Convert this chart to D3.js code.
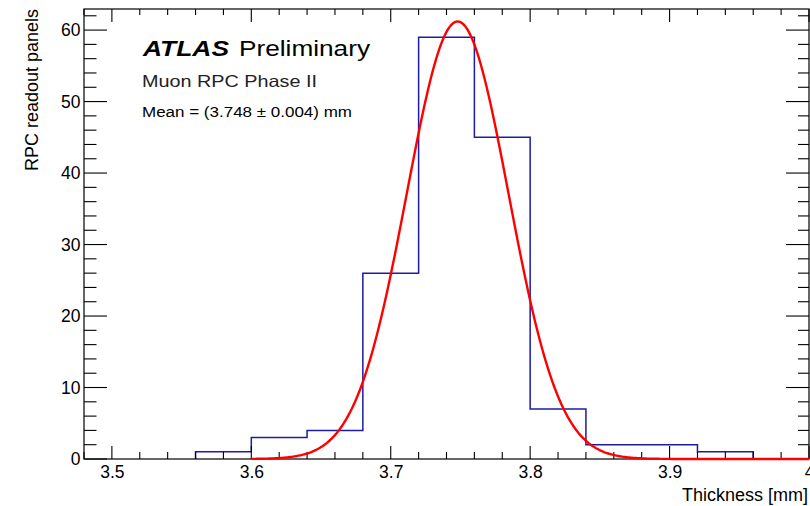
<!DOCTYPE html>
<html>
<head>
<meta charset="utf-8">
<script src="https://cdn.jsdelivr.net/npm/d3@7"></script>
<style>
  body { margin: 0; background: #fff; }
  svg { display: block; font-family: "Liberation Sans", Arial, Helvetica, sans-serif; }
</style>
</head>
<body>
<svg width="810" height="506"></svg>
<script>
// histogram bins (thickness in mm) and counts
const binEdges = [3.56, 3.60, 3.64, 3.68, 3.72, 3.76, 3.80, 3.84, 3.88, 3.92, 3.96];
const counts = [1, 3, 4, 26, 59, 45, 7, 2, 2, 1];

// gaussian fit: [constant, mean, sigma] and fit range
const fitParams = [61.2, 3.748, 0.0365];
const fitRange = [3.6, 4.0];

const xTicks = [3.5, 3.6, 3.7, 3.8, 3.9, 4.0];
const yTicks = [0, 10, 20, 30, 40, 50, 60];

const margin = { top: 9, right: 1, bottom: 47, left: 84 };
const width = 810 - margin.left - margin.right;
const height = 506 - margin.top - margin.bottom;

const svg = d3.select('svg');
const graph = svg.append('g').attr('transform', `translate(${margin.left}, ${margin.top})`);

const xScale = d3.scaleLinear().domain([3.48, 4.0]).range([0, width]);
const yScale = d3.scaleLinear().domain([0, 62.95]).range([height, 0]);

// histogram outline
const steps = [[binEdges[0], 0]];
counts.forEach((c, i) => {
  steps.push([binEdges[i], c]);
  steps.push([binEdges[i + 1], c]);
});
steps.push([binEdges[binEdges.length - 1], 0]);

graph
  .append('path')
  .attr('d', d3.line().x(d => xScale(d[0])).y(d => yScale(d[1]))(steps))
  .attr('fill', 'none')
  .attr('stroke', '#1c1ca4')
  .attr('stroke-width', 1.5);

// ticks
const xMinor = d3.range(174, 201).map(i => i / 50);
const yMinor = d3.range(0, 63, 2);
const ticks = graph.append('g').attr('stroke', '#000').attr('stroke-width', 1.1);

xMinor.forEach(v => {
  const major = xTicks.some(t => Math.abs(t - v) < 1e-6);
  const x = xScale(v);
  ticks.append('line').attr('x1', x).attr('x2', x).attr('y1', height).attr('y2', height - (major ? 13 : 7));
  ticks.append('line').attr('x1', x).attr('x2', x).attr('y1', 0).attr('y2', major ? 13 : 6);
});
yMinor.forEach(v => {
  const major = v % 10 === 0;
  const y = yScale(v);
  ticks.append('line').attr('x1', 0).attr('x2', major ? 23 : 12.5).attr('y1', y).attr('y2', y);
  ticks.append('line').attr('x1', width).attr('x2', width - (major ? 23 : 11)).attr('y1', y).attr('y2', y);
});

graph
  .append('rect')
  .attr('width', width)
  .attr('height', height)
  .attr('fill', 'none')
  .attr('stroke', '#000')
  .attr('stroke-width', 1.2);

// tick labels
const xAxis = d3.axisBottom(xScale).tickValues(xTicks).tickSize(0).tickPadding(6.5).tickFormat(d3.format(''));
graph
  .append('g')
  .attr('transform', `translate(0, ${height})`)
  .call(xAxis)
  .call(g => g.select('.domain').remove())
  .selectAll('text')
  .attr('font-size', 17.5)
  .attr('font-family', null)
  .attr('fill', '#000');

const yAxis = d3.axisLeft(yScale).tickValues(yTicks).tickSize(0).tickPadding(3.5);
graph
  .append('g')
  .call(yAxis)
  .call(g => g.select('.domain').remove())
  .selectAll('text')
  .attr('font-size', 17.5)
  .attr('font-family', null)
  .attr('fill', '#000');

svg.selectAll('.tick text').attr('font-family', null);
svg.selectAll('g').filter(function () { return this.getAttribute('font-family'); }).attr('font-family', null);

// fit curve
const gauss = x => fitParams[0] * Math.exp(-0.5 * Math.pow((x - fitParams[1]) / fitParams[2], 2));
const fitPts = d3.range(0, 401).map(i => {
  const x = fitRange[0] + (fitRange[1] - fitRange[0]) * i / 400;
  return [x, gauss(x)];
});
graph
  .append('path')
  .attr('d', d3.line().x(d => xScale(d[0])).y(d => yScale(d[1])).curve(d3.curveLinear)(fitPts))
  .attr('fill', 'none')
  .attr('stroke', '#ff0000')
  .attr('stroke-width', 2.4);

// axis titles
svg
  .append('text')
  .text('Thickness [mm]')
  .attr('x', 808)
  .attr('y', 501)
  .attr('text-anchor', 'end')
  .attr('font-size', 18);

svg
  .append('text')
  .text('RPC readout panels')
  .attr('transform', 'translate(38, 9) rotate(-90)')
  .attr('text-anchor', 'end')
  .attr('font-size', 18);

// labels
svg
  .append('text')
  .text('ATLAS')
  .attr('x', 143)
  .attr('y', 56)
  .attr('font-size', 22)
  .attr('font-weight', 'bold')
  .attr('font-style', 'italic')
  .attr('textLength', 86)
  .attr('lengthAdjust', 'spacingAndGlyphs');

svg
  .append('text')
  .text('Preliminary')
  .attr('x', 239)
  .attr('y', 56)
  .attr('font-size', 22)
  .attr('textLength', 131)
  .attr('lengthAdjust', 'spacingAndGlyphs');

svg
  .append('text')
  .text('Muon RPC Phase II')
  .attr('x', 142)
  .attr('y', 87)
  .attr('font-size', 16.5)
  .attr('fill', '#222')
  .attr('textLength', 175)
  .attr('lengthAdjust', 'spacingAndGlyphs');

svg
  .append('text')
  .text('Mean = (3.748 \u00b1 0.004) mm')
  .attr('x', 142)
  .attr('y', 117)
  .attr('font-size', 14)
  .attr('textLength', 210)
  .attr('lengthAdjust', 'spacingAndGlyphs');
</script>
</body>
</html>
